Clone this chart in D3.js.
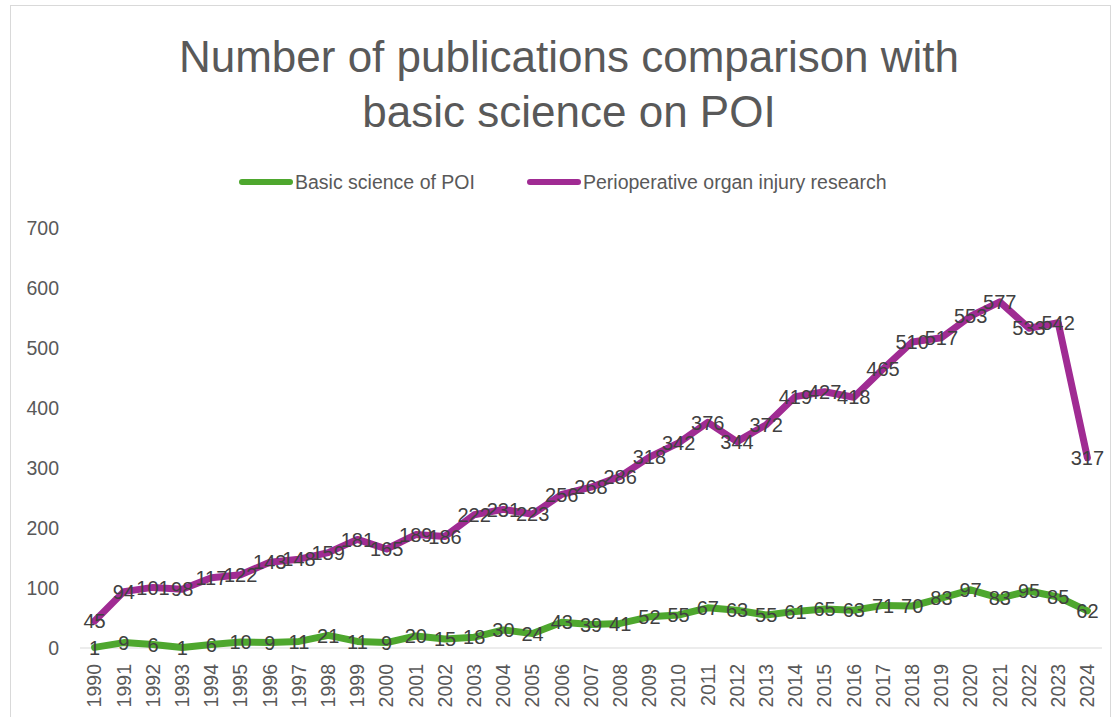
<!DOCTYPE html>
<html>
<head>
<meta charset="utf-8">
<script src="https://cdn.jsdelivr.net/npm/d3@7"></script>
<style>
  body { margin: 0; background: #fff; }
  svg { font-family: "Liberation Sans", Arial, sans-serif; }
</style>
</head>
<body>
<svg id="chart"></svg>
<script>
const years = d3.range(1990, 2025).map(String);
const basicScience = [1, 9, 6, 1, 6, 10, 9, 11, 21, 11, 9, 20, 15, 18, 30, 24, 43, 39, 41, 52,
    55, 67, 63, 55, 61, 65, 63, 71, 70, 83, 97, 83, 95, 85, 62];
const poiResearch = [45, 94, 101, 98, 117, 122, 143, 148, 159, 181, 165, 189, 186, 222, 231, 223,
    256, 268, 286, 318, 342, 376, 344, 372, 419, 427, 418, 465, 510, 517, 553, 577, 533, 542, 317];
const yTicks = [0, 100, 200, 300, 400, 500, 600, 700];
const seriesNames = ['Basic science of POI', 'Perioperative organ injury research'];
const seriesColors = ['#4ea72e', '#a02b93'];

const width = 1116, height = 717;
const margin = { top: 228, right: 14, bottom: 69, left: 80 };

const svg = d3.select('#chart').attr('width', width).attr('height', height);

// chart frame
svg.append('rect')
    .attr('x', 10.5).attr('y', 5.5)
    .attr('width', 1100).attr('height', 730)
    .attr('fill', 'none').attr('stroke', '#d9d9d9');

svg.append('text')
    .attr('x', 569).attr('y', 72)
    .attr('text-anchor', 'middle')
    .attr('fill', '#595959').attr('font-size', 44)
    .text('Number of publications comparison with');
svg.append('text')
    .attr('x', 569).attr('y', 127)
    .attr('text-anchor', 'middle')
    .attr('fill', '#595959').attr('font-size', 44)
    .text('basic science on POI');

const x = d3.scaleBand()
    .domain(years)
    .range([margin.left, width - margin.right]);
const y = d3.scaleLinear()
    .domain([0, 700])
    .range([height - margin.bottom, margin.top]);

// y axis labels
svg.append('g')
    .attr('transform', `translate(${margin.left - 21},0)`)
    .call(d3.axisLeft(y).tickValues(yTicks).tickSize(0).tickPadding(0))
    .call(g => g.select('.domain').remove())
    .call(g => g.selectAll('text')
        .attr('fill', '#595959')
        .attr('font-size', 19.5)
        .attr('font-family', '"Liberation Sans", Arial, sans-serif'));

// baseline
svg.append('line')
    .attr('x1', margin.left).attr('x2', width - margin.right)
    .attr('y1', y(0)).attr('y2', y(0))
    .attr('stroke', '#d9d9d9').attr('stroke-width', 1);

// x axis labels, rotated
svg.append('g')
    .attr('transform', `translate(0,${y(0) + 16})`)
    .call(d3.axisBottom(x).tickSize(0).tickPadding(0))
    .call(g => g.select('.domain').remove())
    .call(g => g.selectAll('text')
        .attr('fill', '#595959')
        .attr('font-size', 19.5)
        .attr('font-family', '"Liberation Sans", Arial, sans-serif')
        .attr('text-anchor', 'end')
        .attr('dy', '0.35em')
        .attr('transform', 'rotate(-90)'));

const cx = d => x(d) + x.bandwidth() / 2;
const line = d3.line()
    .x((d, i) => cx(years[i]))
    .y(d => y(d));

[basicScience, poiResearch].forEach((values, s) => {
    svg.append('path')
        .datum(values)
        .attr('d', line)
        .attr('fill', 'none')
        .attr('stroke', seriesColors[s])
        .attr('stroke-width', 7)
        .attr('stroke-linejoin', 'round')
        .attr('stroke-linecap', 'round');
});

[basicScience, poiResearch].forEach(values => {
    svg.append('g')
        .selectAll('text')
        .data(values)
        .join('text')
        .attr('x', (d, i) => cx(years[i]))
        .attr('y', d => y(d))
        .attr('dy', '0.36em')
        .attr('text-anchor', 'middle')
        .attr('fill', '#404040')
        .attr('font-size', 20)
        .text(d => d);
});

// legend
const legendItems = [{ x: 239 }, { x: 527 }];
legendItems.forEach((item, i) => {
    svg.append('line')
        .attr('x1', item.x + 3).attr('x2', item.x + 51)
        .attr('y1', 182).attr('y2', 182)
        .attr('stroke', seriesColors[i])
        .attr('stroke-width', 6)
        .attr('stroke-linecap', 'round');
    svg.append('text')
        .attr('x', item.x + 56).attr('y', 182)
        .attr('dy', '0.35em')
        .attr('fill', '#595959')
        .attr('font-size', 19.5)
        .text(seriesNames[i]);
});
</script>
</body>
</html>
